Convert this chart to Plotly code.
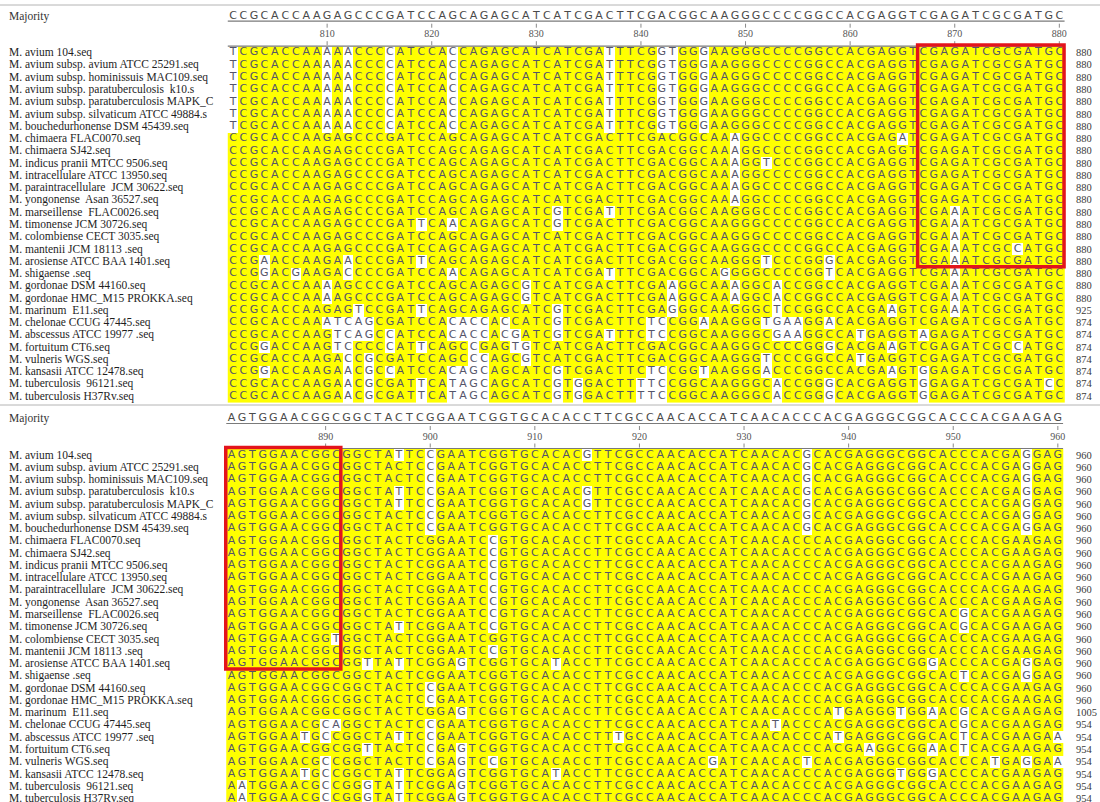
import plotly.graph_objects as go

# ------------------------------------------------------------------ data
taxa = [
    "M. avium 104.seq",
    "M. avium subsp. avium ATCC 25291.seq",
    "M. avium subsp. hominissuis MAC109.seq",
    "M. avium subsp. paratuberculosis  k10.s",
    "M. avium subsp. paratuberculosis MAPK_C",
    "M. avium subsp. silvaticum ATCC 49884.s",
    "M. bouchedurhonense DSM 45439.seq",
    "M. chimaera FLAC0070.seq",
    "M. chimaera SJ42.seq",
    "M. indicus pranii MTCC 9506.seq",
    "M. intracellulare ATCC 13950.seq",
    "M. paraintracellulare  JCM 30622.seq",
    "M. yongonense  Asan 36527.seq",
    "M. marseillense  FLAC0026.seq",
    "M. timonense JCM 30726.seq",
    "M. colombiense CECT 3035.seq",
    "M. mantenii JCM 18113 .seq",
    "M. arosiense ATCC BAA 1401.seq",
    "M. shigaense .seq",
    "M. gordonae DSM 44160.seq",
    "M. gordonae HMC_M15 PROKKA.seq",
    "M. marinum  E11.seq",
    "M. chelonae CCUG 47445.seq",
    "M. abscessus ATCC 19977 .seq",
    "M. fortuitum CT6.seq",
    "M. vulneris WGS.seq",
    "M. kansasii ATCC 12478.seq",
    "M. tuberculosis  96121.seq",
    "M. tuberculosis H37Rv.seq",
]

# positions 801-880
majority_801 = ("CCGCACCAAGAGCCCGATCCAGCAGAGCATCA" "TCGACTTCGACGGCAAGGGCCCCGG"
                "CCACGAGGTCGAGATCGCGATGC")
seqs_801 = [
    "TCGCACCAAAAACCCCATCCACCAGAGCATCA" "TCGATTTCGGTGGGAAGGGCCCCGG" "CCACGAGGTCGAGATCGCGATGC",
    "TCGCACCAAAAACCCCATCCACCAGAGCATCA" "TCGATTTCGGTGGGAAGGGCCCCGG" "CCACGAGGTCGAGATCGCGATGC",
    "TCGCACCAAAAACCCCATCCACCAGAGCATCA" "TCGATTTCGGTGGGAAGGGCCCCGG" "CCACGAGGTCGAGATCGCGATGC",
    "TCGCACCAAAAACCCCATCCACCAGAGCATCA" "TCGATTTCGGTGGGAAGGGCCCCGG" "CCACGAGGTCGAGATCGCGATGC",
    "TCGCACCAAAAACCCCATCCACCAGAGCATCA" "TCGATTTCGGTGGGAAGGGCCCCGG" "CCACGAGGTCGAGATCGCGATGC",
    "TCGCACCAAAAACCCCATCCACCAGAGCATCA" "TCGATTTCGGTGGGAAGGGCCCCGG" "CCACGAGGTCGAGATCGCGATGC",
    "TCGCACCAAAAACCCCATCCACCAGAGCATCA" "TCGATTTCGGTGGGAAGGGCCCCGG" "CCACGAGGTCGAGATCGCGATGC",
    "CCGCACCAAGAGCCCGATCCAGCAGAGCATCA" "TCGACTTCGACGGCAAAGGCCCCGG" "CCACGAGATCGAGATCGCGATGC",
    "CCGCACCAAGAGCCCGATCCAGCAGAGCATCA" "TCGACTTCGACGGCAAAGGCCCCGG" "CCACGAGGTCGAGATCGCGATGC",
    "CCGCACCAAGAGCCCGATCCAGCAGAGCATCA" "TCGACTTCGACGGCAAAGGTCCCGG" "CCACGAGGTCGAGATCGCGATGC",
    "CCGCACCAAGAGCCCGATCCAGCAGAGCATCA" "TCGACTTCGACGGCAAAGGCCCCGG" "CCACGAGGTCGAGATCGCGATGC",
    "CCGCACCAAGAGCCCGATCCAGCAGAGCATCA" "TCGACTTCGACGGCAAAGGCCCCGG" "CCACGAGGTCGAGATCGCGATGC",
    "CCGCACCAAGAGCCCGATCCAGCAGAGCATCA" "TCGACTTCGACGGCAAAGGCCCCGG" "CCACGAGGTCGAGATCGCGATGC",
    "CCGCACCAAGAGCCCGATCCAGCAGAGCATCG" "TCGATTTCGACGGCAAGGGCCCCGG" "CCACGAGGTCGAAATCGCGATGC",
    "CCGCACCAAGAGCCCGATTCAACAGAGCATCG" "TCGACTTCGACGGCAAGGGCCCCGG" "CCACGAGGTCGAAATCGCGATGC",
    "CCGCACCAAGAGCCCGATCCAGCAGAGCATCA" "TCGACTTCGACGGCAAGGGCCCCGG" "CCACGAGGTCGAAATCGCGATGC",
    "CCGCACCAAGAGCCCGATCCAGCAGAGCATCA" "TCGACTTCGACGGCAAGGGCCCCGG" "CCACGAGGTCGAAATCGCCATGC",
    "CCGAACCAAGAACCCGATTCAGCAGAGCATCA" "TCGACTTCGACGGCAAGGGTCCCGG" "GCACGAGGTCGAAATCGCGATGC",
    "CCGGACGAAGACCCCGATCCAACAGAGCATCA" "TCGATTTCGACGGCAGGGGCCCCGG" "TCACGAGGTCGAAATCGCGATGC",
    "CCGCACCAAAAGCCCGATCCAGCAGAGCGTCA" "TCGACTTCGAAGGCAAAGGCACCGG" "CCACGAGGTCGAAATCGCGATGC",
    "CCGCACCAAAAGCCCGATCCAGCAGAGCGTCA" "TCGACTTCGAAGGCAAAGGCACCGG" "CCACGAGGTCGAAATCGCGATGC",
    "CCGCACCAAGAGTCCGATTCAGCAGAGCATCG" "TCGACTTCGAGGGCAAGGGCTCCGG" "CCACGAAGTCGAAATCGCGATGC",
    "CCGCACCAAATCAGCGATCCACACCACCATCG" "TCGACTTCTCCGGAAAGGGTGAAGG" "ACACGAGGTCGAGATCGCGATGC",
    "CCGCACCAAGTCAGCCATCCACACCACGATCG" "TCGATTTCTCCGGCAAGGGCGAAGG" "CCATGAGGTAGAGATCGCGATGC",
    "CCGGACCAAGTCCCCCATTCAGCCGAGTGTCA" "TCGACTTCGACGGCAAGGGCCCCGG" "GCACGAAGTCGAGATCGCCATGC",
    "CCGCACCAAGACCGCGATCCAGCCCAGCGTCA" "TCGACTTCGACGGCAAGGGTCCCGG" "CCATGAGGTCGAGATCGCGATGC",
    "CCGGACCAAGAACGCCATCCACAGCAGCATCG" "TCGACTTCTCCGGTAAGGGACCCGG" "CCACGAAGTGGAGATCGCGATGC",
    "CCGCACCAAGAACGCGATTCATAGCAGCATCG" "TGGACTTTTCCGGCAAGGGCACCGG" "GCACGAGGTGGAGATCGCGATCC",
    "CCGCACCAAGAACGCGATTCATAGCAGCATCG" "TGGACTTTTCCGGCAAGGGCACCGG" "GCACGAGGTGGAGATCGCGATGC",
]
ends_801 = [880, 880, 880, 880, 880, 880, 880, 880, 880, 880, 880, 880, 880, 880,
            880, 880, 880, 880, 880, 880, 880, 925, 874, 874, 874, 874, 874, 874, 874]
ruler_801 = [810, 820, 830, 840, 850, 860, 870, 880]

# positions 881-960
majority_881 = ("AGTGGAACGGCGGCTACTCGGAATCGGTGCAC" "ACCTTCGCCAACACCATCAACACCCACGAGGG"
                "CGGCACCCACGAAGAG")
seqs_881 = [
    "AGTGGAACGGCGGCTATTCCGAATCGGTGCAC" "ACGTTCGCCAACACCATCAACACGCACGAGGG" "CGGCACCCACGAGGAG",
    "AGTGGAACGGCGGCTACTCCGAATCGGTGCAC" "ACCTTCGCCAACACCATCAACACGCACGAGGG" "CGGCACCCACGAGGAG",
    "AGTGGAACGGCGGCTACTCCGAATCGGTGCAC" "ACCTTCGCCAACACCATCAACACGCACGAGGG" "CGGCACCCACGAGGAG",
    "AGTGGAACGGCGGCTATTCCGAATCGGTGCAC" "ACGTTCGCCAACACCATCAACACGCACGAGGG" "CGGCACCCACGAGGAG",
    "AGTGGAACGGCGGCTATTCCGAATCGGTGCAC" "ACGTTCGCCAACACCATCAACACGCACGAGGG" "CGGCACCCACGAGGAG",
    "AGTGGAACGGCGGCTACTCCGAATCGGTGCAC" "ACCTTCGCCAACACCATCAACACGCACGAGGG" "CGGCACCCACGAGGAG",
    "AGTGGAACGGCGGCTACTCCGAATCGGTGCAC" "ACCTTCGCCAACACCATCAACACGCACGAGGG" "CGGCACCCACGAGGAG",
    "AGTGGAACGGCGGCTACTCGGAATCCGTGCAC" "ACCTTCGCCAACACCATCAACACCCACGAGGG" "CGGCACCCACGAAGAG",
    "AGTGGAACGGCGGCTACTCGGAATCCGTGCAC" "ACCTTCGCCAACACCATCAACACCCACGAGGG" "CGGCACCCACGAAGAG",
    "AGTGGAACGGCGGCTACTCGGAATCCGTGCAC" "ACCTTCGCCAACACCATCAACACCCACGAGGG" "CGGCACCCACGAAGAG",
    "AGTGGAACGGCGGCTACTCGGAATCCGTGCAC" "ACCTTCGCCAACACCATCAACACCCACGAGGG" "CGGCACCCACGAAGAG",
    "AGTGGAACGGCGGCTACTCGGAATCCGTGCAC" "ACCTTCGCCAACACCATCAACACCCACGAGGG" "CGGCACCCACGAAGAG",
    "AGTGGAACGGCGGCTACTCGGAATCCGTGCAC" "ACCTTCGCCAACACCATCAACACCCACGAGGG" "CGGCACCCACGAAGAG",
    "AGTGGAACGGCGGCTACTCGGAATCCGTGCAC" "ACCTTCGCCAACACCATCAACACCCACGAGGG" "CGGCACGCACGAAGAG",
    "AGTGGAACGGCGGCTATTCGGAATCCGTGCAC" "ACCTTCGCCAACACCATCAACACCCACGAGGG" "CGGCACGCACGAAGAG",
    "AGTGGAACGGTGGCTACTCGGAATCGGTGCAC" "ACCTTCGCCAACACCATCAACACCCACGAGGG" "CGGCACCCACGAAGAG",
    "AGTGGAACGGCGGCTACTCGGAATCCGTGCAC" "ACCTTCGCCAACACCATCAACACCCACGAGGG" "CGGCACCCACGAAGAG",
    "AGTGGAACGGCGGTTATTCGGAGTCGGTGCAT" "ACCTTCGCCAACACCATCAACACCCACGAGGG" "CGGGACCCACGAGGAG",
    "AGTGGAACGGCGGCTACTCGGAATCGGTGCAC" "ACCTTCGCCAACACCATCAACACCCACGAGGG" "CGGCACTCACGAGGAG",
    "AGTGGAACGGCGGCTACTCCGAATCGGTGCAC" "ACCTTCGCCAACACCATCAACACCCACGAGGG" "CGGCACCCACGAAGAG",
    "AGTGGAACGGCGGCTACTCCGAATCGGTGCAC" "ACCTTCGCCAACACCATCAACACCCACGAGGG" "CGGCACCCACGAAGAG",
    "AGTGGAACGGCGGCTACTCGGAGTCGGTGCAC" "ACCTTCGCCAACACCATCAACACCCATGAGGG" "TGGAACGCACGAAGAG",
    "AGTGGAACGCAGGCTACTCCGAATCGGTGCAC" "ACCTTCGCCAACACCATCAATACCCACGAGGG" "CGGCACGCACGAAGAG",
    "AGTGGAATGCCGGCTATTCCGAATCGGTGCAC" "ACCTTTGCCAACACCATCAACACCCATGAGGG" "CGGCACTCACGAAGAA",
    "AGTGGAACGGCGGTTACTCCGAGTCGGTGCAC" "ACCTTCGCCAACACCATCAACACCCACGAAGG" "CGGAACTCACGAAGAG",
    "AGTGGAACGCCGGCTACTCCGAGTCCGTGCAC" "ACCTTCGCCAACACGATCAACACTCACGAGGG" "CGGCACCCATGAGGAA",
    "AGTGGAATGCCGGCTATTCGGAGTCGGTGCAT" "ACCTTCGCCAACACCATCAACACCCACGAGGG" "TGGGACCCACGAAGAG",
    "AATGGAACGCCGGGTATTCGGAGTCGGTGCAC" "ACCTTCGCCAACACCATCAACACCCACGAGGG" "CGGCACCCACGAAGAG",
    "AATGGAACGCCGGGTATTCGGAGTCGGTGCAC" "ACCTTCGCCAACACCATCAACACCCACGAGGG" "CGGCACCCACGAAGAG",
]
ends_881 = [960, 960, 960, 960, 960, 960, 960, 960, 960, 960, 960, 960, 960, 960,
            960, 960, 960, 960, 960, 960, 960, 1005, 954, 954, 954, 954, 954, 954, 954]
ruler_881 = [890, 900, 910, 920, 930, 940, 950, 960]

# boxed columns / rows in each panel (alignment position, row index)
highlight_801 = dict(first=867, last=880, rows=(0, 17))
highlight_881 = dict(first=881, last=891, rows=(0, 17))

# ------------------------------------------------------------------ style
FIG_W, FIG_H = 1100, 802
COL_W = 10.46          # px per alignment column
ROW_H = 12.27          # px per sequence row
YELLOW = "#ffff00"
BASE_COLOR = "#55556a"
SEQ_FONT = "DejaVu Sans"
LABEL_FONT = "Liberation Serif"

panels = [
    dict(start=801, majority=majority_801, seqs=seqs_801, ends=ends_801, ruler=ruler_801,
         box=highlight_801, col0_px=233.0, row0_px=52.7, top_px=0, bottom_px=404,
         xa="x", ya="y"),
    dict(start=881, majority=majority_881, seqs=seqs_881, ends=ends_881, ruler=ruler_881,
         box=highlight_881, col0_px=231.5, row0_px=455.0, top_px=404, bottom_px=FIG_H,
         xa="x2", ya="y2"),
]

fig = go.Figure()
layout_axes = {}
annotations = []
shapes = []

for k, p in enumerate(panels):
    start = p["start"]
    ncol = len(p["majority"])
    positions = list(range(start, start + ncol))
    xa, ya = p["xa"], p["ya"]

    def px_to_pos(px):
        return start + (px - p["col0_px"]) / COL_W

    def px_to_row(py):
        return (py - p["row0_px"]) / ROW_H

    # header rows expressed in row units relative to the first sequence
    y_major = px_to_row(p["row0_px"] - 36.3)
    y_uline = px_to_row(p["row0_px"] - 31.5)
    y_num = px_to_row(p["row0_px"] - 18.0)
    y_rule = -0.53

    # shading: residues identical to the majority are yellow
    z = [[1 if s[c] == p["majority"][c] else 0 for c in range(ncol)] for s in p["seqs"]]
    fig.add_trace(go.Heatmap(
        z=z, x=positions, y=list(range(len(p["seqs"]))),
        colorscale=[[0, "#ffffff"], [1, YELLOW]], zmin=0, zmax=1,
        showscale=False, hoverinfo="skip", xgap=0, ygap=0,
        xaxis=xa, yaxis=ya))

    # residue letters
    xs, ys, txt = [], [], []
    for r, s in enumerate(p["seqs"]):
        for c, ch in enumerate(s):
            xs.append(positions[c]); ys.append(r); txt.append(ch)
    fig.add_trace(go.Scatter(
        x=xs, y=ys, text=txt, mode="text", textposition="middle center",
        textfont=dict(family=SEQ_FONT, size=11, color=BASE_COLOR),
        hoverinfo="skip", xaxis=xa, yaxis=ya))

    # majority sequence
    fig.add_trace(go.Scatter(
        x=positions, y=[y_major] * ncol, text=list(p["majority"]), mode="text",
        textposition="middle center",
        textfont=dict(family=SEQ_FONT, size=11, color="#4a4a4a"),
        hoverinfo="skip", xaxis=xa, yaxis=ya))

    # underline below majority, and rule on top of the alignment
    fig.add_trace(go.Scatter(
        x=[start - 0.5, start + ncol - 0.5, None, start - 0.5, start + ncol - 0.5],
        y=[y_uline, y_uline, None, y_rule, y_rule], mode="lines",
        line=dict(color="#7a7a7a", width=1.2), hoverinfo="skip",
        xaxis=xa, yaxis=ya))

    # ruler ticks and numbers
    tx, ty = [], []
    t1a, t1b = px_to_row(p["row0_px"] - 29.0), px_to_row(p["row0_px"] - 25.0)
    t2a, t2b = px_to_row(p["row0_px"] - 11.5), px_to_row(p["row0_px"] - 7.5)
    for pos in p["ruler"]:
        tx += [pos, pos, None, pos, pos, None]
        ty += [t1a, t1b, None, t2a, t2b, None]
    fig.add_trace(go.Scatter(
        x=tx, y=ty, mode="lines", line=dict(color="#8a8a8a", width=1),
        hoverinfo="skip", xaxis=xa, yaxis=ya))
    fig.add_trace(go.Scatter(
        x=p["ruler"], y=[y_num] * len(p["ruler"]), text=[str(v) for v in p["ruler"]],
        mode="text", textposition="middle center",
        textfont=dict(family=LABEL_FONT, size=10, color="#555555"),
        hoverinfo="skip", xaxis=xa, yaxis=ya))

    # row labels and end coordinates
    x_label = px_to_pos(7.0)
    x_end = px_to_pos(1074.0)
    annotations.append(dict(x=x_label, y=y_major, xref=xa, yref=ya, text="Majority",
                            showarrow=False, xanchor="left", yanchor="middle",
                            font=dict(family=LABEL_FONT, size=11.5, color="#333333")))
    for r, name in enumerate(taxa):
        annotations.append(dict(x=x_label, y=r, xref=xa, yref=ya, text=name,
                                showarrow=False, xanchor="left", yanchor="middle",
                                font=dict(family=LABEL_FONT, size=11.5, color="#1e1e1e")))
        annotations.append(dict(x=x_end, y=r, xref=xa, yref=ya, text=str(p["ends"][r]),
                                showarrow=False, xanchor="left", yanchor="middle",
                                font=dict(family=LABEL_FONT, size=10.5, color="#3a3a3a")))

    # red highlight box
    b = p["box"]
    shapes.append(dict(type="rect", xref=xa, yref=ya,
                       x0=b["first"] - 0.55, x1=b["last"] + 0.45,
                       y0=b["rows"][0] - 0.62, y1=b["rows"][1] + 0.45,
                       line=dict(color="#e3141c", width=3.5), layer="above"))

    # axes mapped so that the panel occupies its pixel band
    x_range = [px_to_pos(0), px_to_pos(FIG_W)]
    y_range = [px_to_row(p["bottom_px"]), px_to_row(p["top_px"])]
    dom = [1 - p["bottom_px"] / FIG_H, 1 - p["top_px"] / FIG_H]
    xname = "xaxis" if xa == "x" else "xaxis2"
    yname = "yaxis" if ya == "y" else "yaxis2"
    layout_axes[xname] = dict(domain=[0, 1], range=x_range, visible=False,
                              fixedrange=True, anchor=ya)
    layout_axes[yname] = dict(domain=dom, range=y_range, visible=False,
                              fixedrange=True, anchor=xa)

# panel separators
for ypx in (5, 405):
    shapes.append(dict(type="line", xref="paper", yref="paper", x0=0, x1=1,
                       y0=1 - ypx / FIG_H, y1=1 - ypx / FIG_H,
                       line=dict(color="#b4b4b4", width=1)))

fig.update_layout(
    width=FIG_W, height=FIG_H, margin=dict(l=0, r=0, t=0, b=0),
    paper_bgcolor="white", plot_bgcolor="white", showlegend=False,
    hovermode=False, annotations=annotations, shapes=shapes, **layout_axes)

fig.write_html("out.html", config={"displayModeBar": False})
